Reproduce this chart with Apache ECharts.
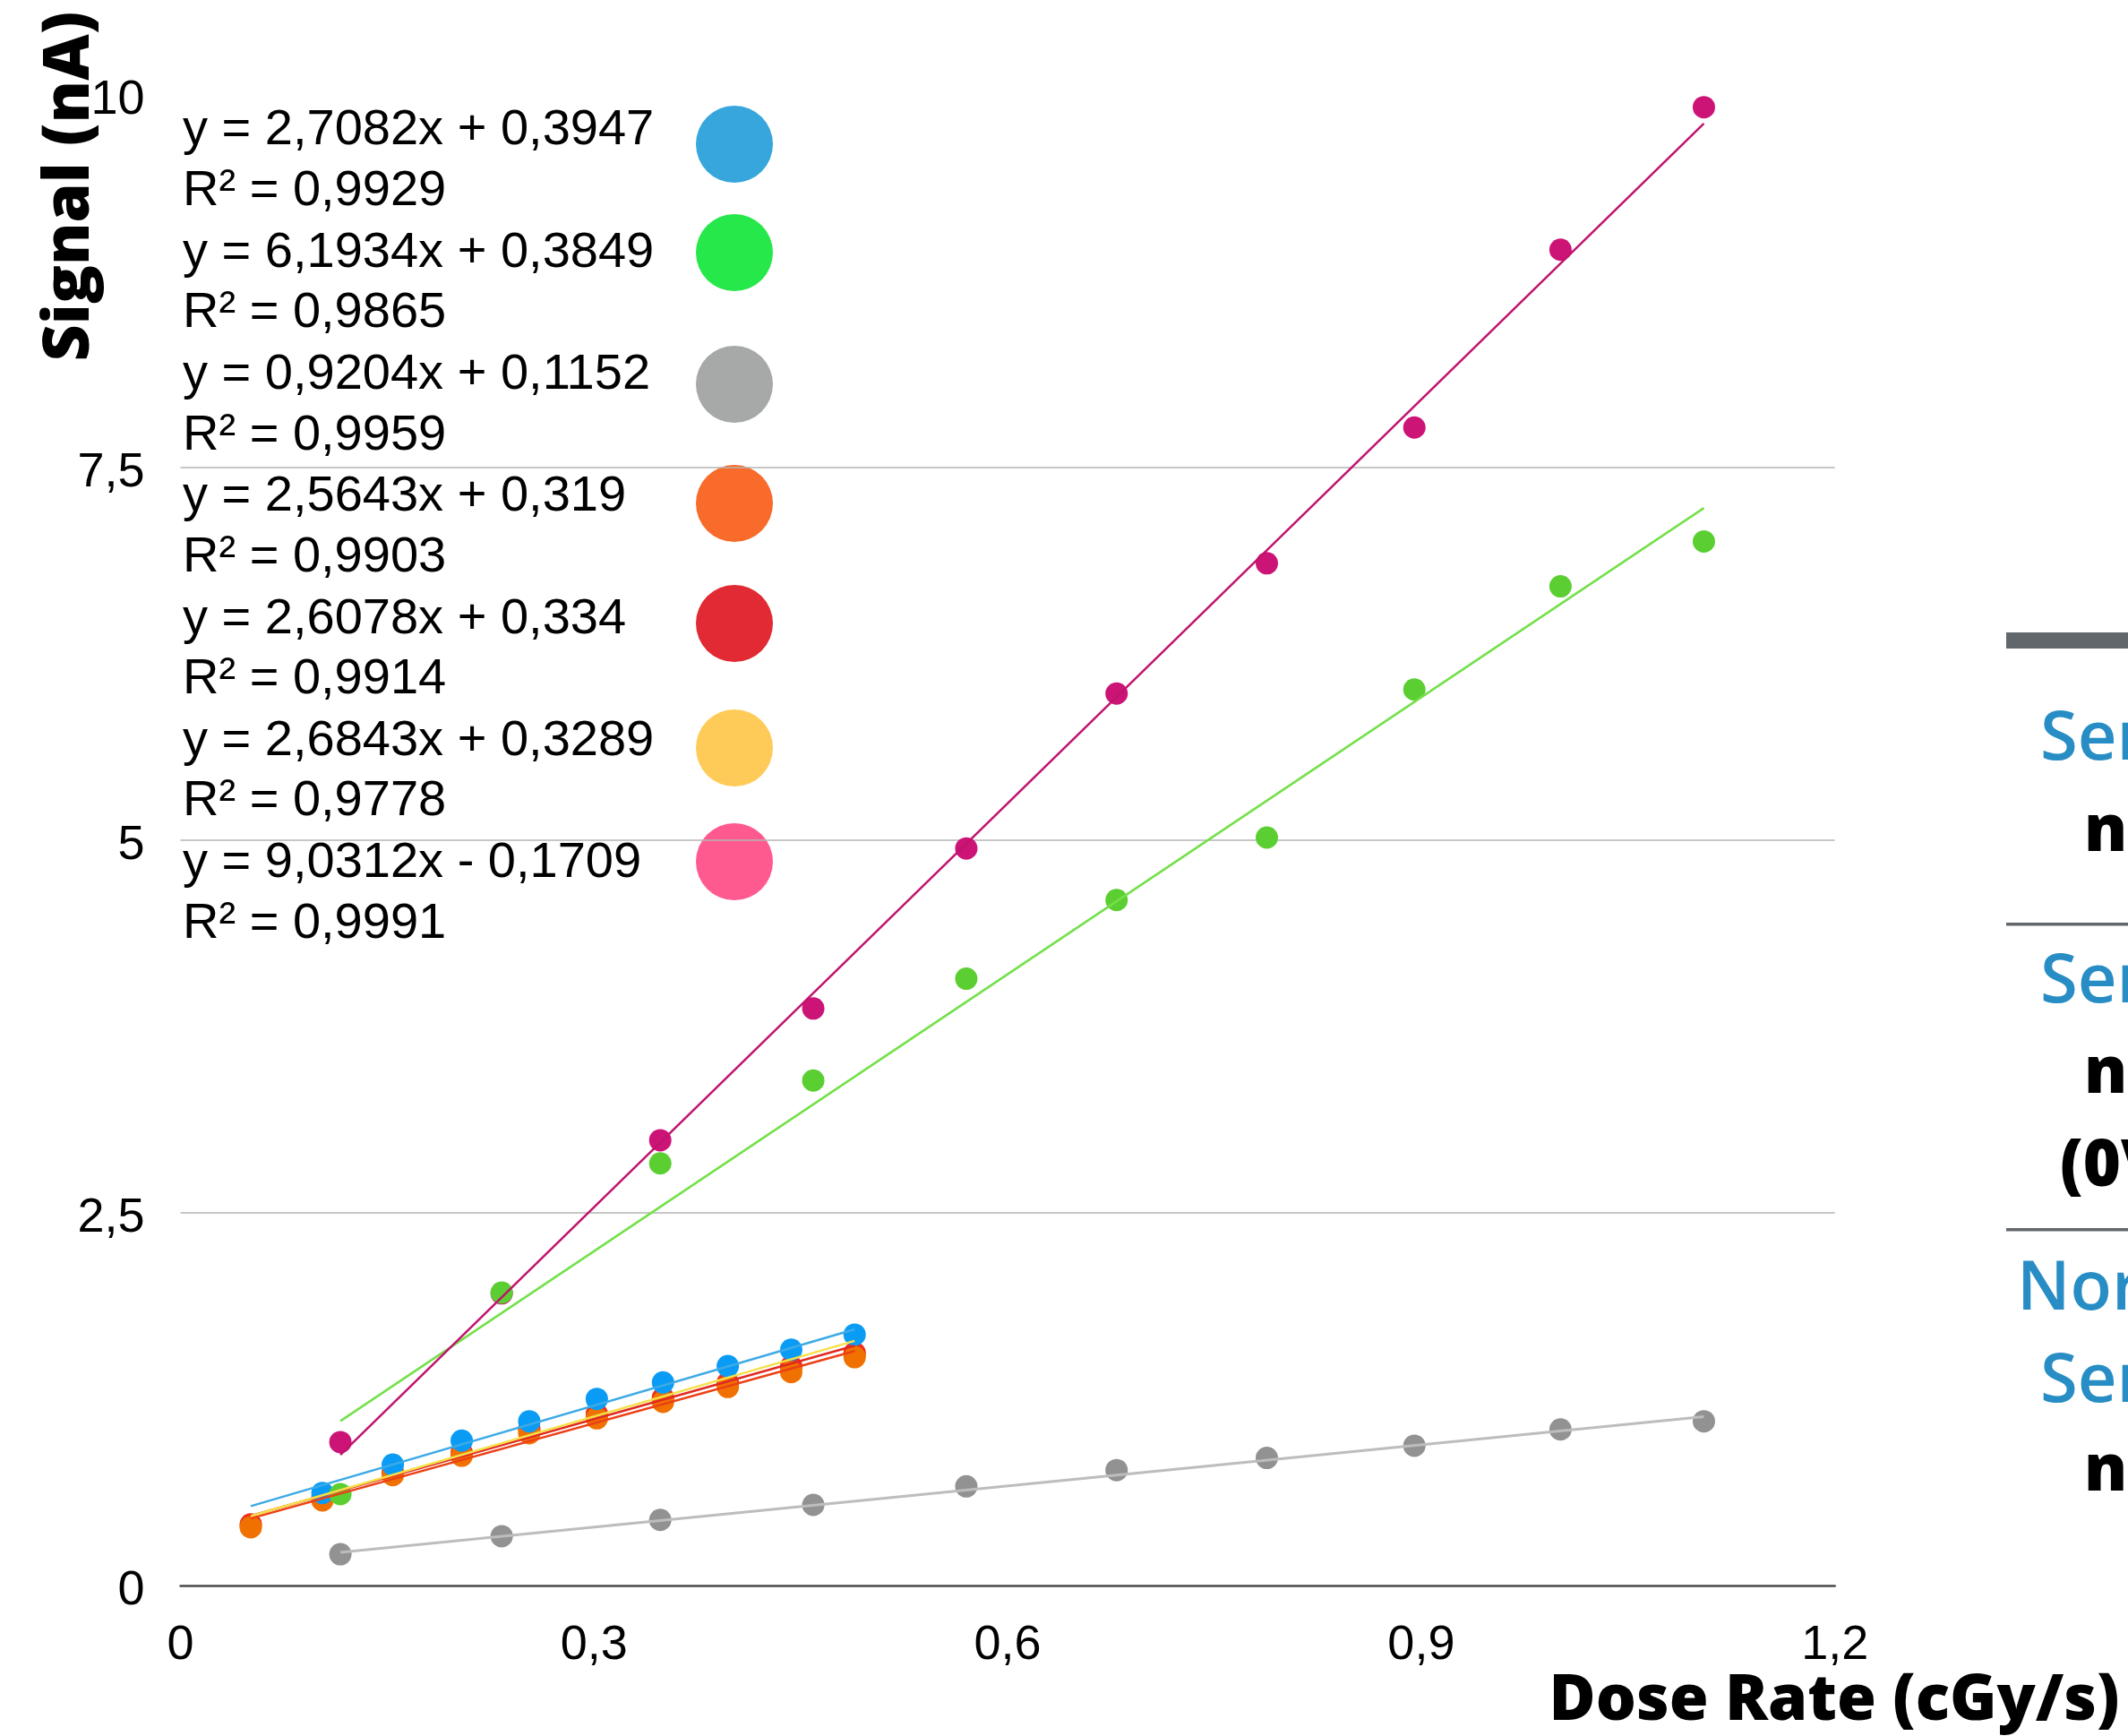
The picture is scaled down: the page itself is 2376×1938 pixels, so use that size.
<!DOCTYPE html>
<html>
<head>
<meta charset="utf-8">
<script src="https://cdn.jsdelivr.net/npm/echarts@6/dist/echarts.min.js"></script>
<style>
  html, body { margin: 0; padding: 0; background: #ffffff; }
  #chart { width: 2376px; height: 1938px; }
</style>
</head>
<body>
<div id="chart"></div>
<script>
// Dose rates (cGy/s) of the two measurement runs
const doseLow  = [0.051, 0.103, 0.154, 0.204, 0.253, 0.302, 0.350, 0.397, 0.443, 0.489];
const doseHigh = [0.116, 0.233, 0.348, 0.459, 0.570, 0.679, 0.788, 0.895, 1.001, 1.105];

// Measured signal (nA) for each sensor
const signalBlue    = [null, 0.621, 0.811, 0.972, 1.102, 1.252, 1.362, 1.472, 1.582, 1.683];
const signalOrange  = [0.391, 0.571, 0.741, 0.871, 1.022, 1.122, 1.232, 1.332, 1.432, 1.532];
const signalRed     = [0.410, 0.590, 0.760, 0.890, 1.050, 1.150, 1.260, 1.360, 1.470, 1.560];
const signalYellow  = [0.400, 0.580, 0.750, 0.880, 1.040, 1.140, 1.250, 1.350, 1.450, 1.550];
const signalGreen   = [0.613, 1.965, 2.832, 3.388, 4.071, 4.599, 5.018, 6.011, 6.703, 7.004];
const signalGray    = [0.210, 0.331, 0.440, 0.541, 0.665, 0.774, 0.856, 0.938, 1.047, 1.102];
const signalMagenta = [0.962, 1.960, 2.987, 3.871, 4.945, 5.984, 6.858, 7.769, 8.962, 9.918];

// Linear fits, in legend order: blue, green, gray, orange, red, yellow, magenta
const fitSlopes     = [2.7082, 6.1934, 0.9204, 2.5643, 2.6078, 2.6843, 9.0312];
const fitIntercepts = [0.3947, 0.3849, 0.1152, 0.319, 0.334, 0.3289, -0.1709];
const fitR2         = [0.9929, 0.9865, 0.9959, 0.9903, 0.9914, 0.9778, 0.9991];

// Axis ticks
const xTicks = [0, 0.3, 0.6, 0.9, 1.2];
const yTicks = [0, 2.5, 5, 7.5, 10];

// Colours
const markerColors = { blue: '#0A9CF5', green: '#5BCF32', gray: '#929292', orange: '#F07100', red: '#EE2E1C', yellow: '#FFD040', magenta: '#CC1477' };
const fitColors    = ['#3DAAE6', '#74E04A', '#BDBDBD', '#EC4015', '#E02A22', '#F5E04A', '#C0136D'];
const legendColors = ['#36A6DC', '#26E84A', '#A6A9A8', '#F86B2B', '#E12A33', '#FECB58', '#FF5A8F'];

const comma = (v) => String(v).replace('.', ',');
const fmt = (v) => comma(parseFloat(Math.abs(v).toFixed(4)));

function pairs(xs, ys) {
  const out = [];
  xs.forEach((x, i) => { if (ys[i] !== null) out.push([x, ys[i]]); });
  return out;
}

// fit line spans the x range of its own data
const fitRanges = [doseLow, doseHigh, doseHigh, doseLow, doseLow, doseLow, doseHigh];
function fitLine(i) {
  const xs = fitRanges[i];
  const a = xs[0], b = xs[xs.length - 1];
  return [[a, fitSlopes[i] * a + fitIntercepts[i]], [b, fitSlopes[i] * b + fitIntercepts[i]]];
}

const MARKER = 25;
function scatter(name, xs, ys, color) {
  return { name, type: 'scatter', symbolSize: MARKER, data: pairs(xs, ys), itemStyle: { color, opacity: 1 }, z: 2, silent: true };
}
function fitSeries(i, width) {
  return {
    type: 'line', data: fitLine(i), showSymbol: false, symbol: 'none', silent: true, z: 3,
    lineStyle: { color: fitColors[i], width: width }
  };
}

const series = [
  scatter('yellow', doseLow, signalYellow, markerColors.yellow),
  scatter('red', doseLow, signalRed, markerColors.red),
  scatter('orange', doseLow, signalOrange, markerColors.orange),
  scatter('blue', doseLow, signalBlue, markerColors.blue),
  scatter('gray', doseHigh, signalGray, markerColors.gray),
  scatter('magenta', doseHigh, signalMagenta, markerColors.magenta),
  scatter('green', doseHigh, signalGreen, markerColors.green),
  fitSeries(2, 3),
  fitSeries(3, 2.5),
  fitSeries(4, 2.5),
  fitSeries(5, 2.5),
  fitSeries(0, 2.5),
  fitSeries(1, 2.5),
  fitSeries(6, 2.5)
];

// Legend block: equations on the left, colour swatches on the right
const LEG_X = 204, LEG_TOP = 146, PAIR_STEP = 136.3, LINE_STEP = 67.5;
const swatchY = [161, 282, 429, 562, 696, 835, 962];
const legendFont = '56px "Liberation Sans", Arial, sans-serif';
const graphics = [];
fitSlopes.forEach((s, i) => {
  const b = fitIntercepts[i];
  const eq = 'y = ' + fmt(s) + 'x ' + (b < 0 ? '-' : '+') + ' ' + fmt(b);
  const r2 = 'R² = ' + fmt(fitR2[i]);
  const y0 = LEG_TOP + i * PAIR_STEP;
  graphics.push({ type: 'text', x: LEG_X, y: y0, style: { text: eq, font: legendFont, fill: '#000', align: 'left', verticalAlign: 'middle' } });
  graphics.push({ type: 'text', x: LEG_X, y: y0 + LINE_STEP, style: { text: r2, font: legendFont, fill: '#000', align: 'left', verticalAlign: 'middle' } });
  graphics.push({ type: 'circle', shape: { cx: 820, cy: swatchY[i], r: 43 }, style: { fill: legendColors[i] } });
});

// Axis titles
const titleFont = '800 71px "Open Sans", sans-serif';
graphics.push({ type: 'text', x: 2048, y: 1900, style: { text: 'Dose Rate (cGy/s)', font: titleFont, fill: '#000', align: 'center', verticalAlign: 'middle' } });
graphics.push({ type: 'text', x: 79, y: 208, rotation: Math.PI / 2, style: { text: 'Signal (nA)', font: titleFont, fill: '#000', align: 'center', verticalAlign: 'middle' } });

// Side table (cut at the page edge)
const ruleColor = '#62676B';
graphics.push({ type: 'rect', shape: { x: 2240, y: 706, width: 140, height: 18 }, style: { fill: ruleColor } });
graphics.push({ type: 'rect', shape: { x: 2240, y: 1030, width: 140, height: 3.5 }, style: { fill: ruleColor } });
graphics.push({ type: 'rect', shape: { x: 2240, y: 1371, width: 140, height: 3.5 }, style: { fill: ruleColor } });
const headFont = '600 76px "Open Sans", sans-serif';
const cellFont = '800 72px "Open Sans", sans-serif';
const tableTexts = [
  ['Sensor', 2278, 826, headFont, '#278DC4'],
  ['n°1', 2327, 929, cellFont, '#000'],
  ['Sensor', 2278, 1097, headFont, '#278DC4'],
  ['n°2', 2327, 1199, cellFont, '#000'],
  ['(0V)', 2300, 1303, cellFont, '#000'],
  ['Normalized', 2252, 1440, headFont, '#278DC4'],
  ['Sensor', 2278, 1543, headFont, '#278DC4'],
  ['n°2', 2327, 1643, cellFont, '#000']
];
tableTexts.forEach(([t, x, y, f, c]) => {
  graphics.push({ type: 'text', x, y, style: { text: t, font: f, fill: c, align: 'left', verticalAlign: 'middle' } });
});

const tickFont = { color: '#000', fontSize: 54, fontFamily: '"Liberation Sans", Arial, sans-serif' };

const chart = echarts.init(document.getElementById('chart'), null, { renderer: 'canvas' });
chart.setOption({
  backgroundColor: '#ffffff',
  animation: false,
  grid: { left: 201.5, right: 327.3, top: 106, bottom: 168, containLabel: false },
  xAxis: {
    type: 'value', min: xTicks[0], max: xTicks[xTicks.length - 1], interval: xTicks[1] - xTicks[0],
    axisLine: { show: true, onZero: false, lineStyle: { color: '#4A4A4A', width: 2.5 } },
    axisTick: { show: false },
    splitLine: { show: false },
    axisLabel: Object.assign({ margin: 40, formatter: (v) => comma(+v.toFixed(2)) }, tickFont)
  },
  yAxis: {
    type: 'value', min: yTicks[0], max: yTicks[yTicks.length - 1], interval: yTicks[1] - yTicks[0],
    axisLine: { show: false },
    axisTick: { show: false },
    splitLine: { show: true, showMinLine: false, showMaxLine: false, lineStyle: { color: '#B5B5B5', width: 1.5 } },
    axisLabel: Object.assign({
      margin: 40,
      formatter: (v) => '{v|' + comma(+v.toFixed(2)) + '}',
      rich: { v: Object.assign({ padding: [12, 0, 0, 0] }, tickFont) }
    }, tickFont)
  },
  series: series,
  graphic: graphics
});
</script>
</body>
</html>
